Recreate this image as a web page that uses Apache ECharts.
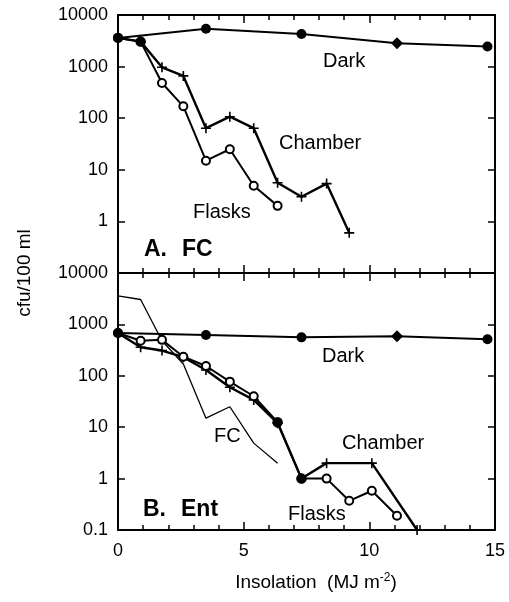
<!DOCTYPE html>
<html>
<head>
<meta charset="utf-8">
<script src="https://cdn.jsdelivr.net/npm/echarts@6.0.0/dist/echarts.min.js"></script>
<style>
html, body { margin: 0; padding: 0; background: #fff; }
#chart { width: 509px; height: 602px; }
</style>
</head>
<body>
<div id="chart"></div>
<script>
// A. FC panel
var fcDarkX = [0, 3.5, 7.3, 11.1, 14.7];
var fcDark = [3600, 5400, 4300, 2850, 2450];
var fcChamberX = [0, 0.9, 1.75, 2.6, 3.5, 4.45, 5.4, 6.35, 7.3, 8.3, 9.2];
var fcChamber = [3600, 3050, 970, 660, 64, 107, 64, 5.6, 3.0, 5.4, 0.6];
var fcFlasksX = [0, 0.9, 1.75, 2.6, 3.5, 4.45, 5.4, 6.35];
var fcFlasks = [3600, 3050, 480, 170, 15, 25, 4.9, 2.0];

// B. Ent panel
var entDarkX = [0, 3.5, 7.3, 11.1, 14.7];
var entDark = [680, 620, 560, 590, 515];
var entChamberX = [0, 0.9, 1.75, 2.6, 3.5, 4.45, 5.4, 6.35, 7.3, 8.3, 10.1, 11.9];
var entChamber = [680, 360, 310, 230, 130, 60, 34, 12, 1.0, 2.0, 2.0, 0.1];
var entFlasksX = [0, 0.9, 1.75, 2.6, 3.5, 4.45, 5.4, 6.35, 7.3, 8.3, 9.2, 10.1, 11.1];
var entFlasks = [680, 480, 500, 235, 155, 77, 40, 12.5, 1.0, 1.0, 0.37, 0.58, 0.19];

var xTicks = [0, 5, 10, 15];
var yTicks = [0.1, 1, 10, 100, 1000, 10000];

var F = '"Liberation Sans", Arial, sans-serif';
var chart = echarts.init(document.getElementById('chart'));

function pts(xs, ys) {
    return xs.map(function (x, i) { return [x, ys[i]]; });
}

function xAx(grid, pos, labels) {
    return {
        type: 'value', gridIndex: grid, position: pos,
        min: xTicks[0], max: xTicks[xTicks.length - 1], interval: 5,
        axisLine: { show: true, onZero: false, lineStyle: { color: '#000', width: 2 } },
        axisTick: { show: true, inside: true, length: 8, lineStyle: { color: '#000', width: 1.5 } },
        minorTick: { show: true, splitNumber: 5, length: 5, lineStyle: { color: '#000', width: 1.5 } },
        splitLine: { show: false },
        axisLabel: { show: labels, margin: 12, fontSize: 18, color: '#000', fontFamily: F }
    };
}

function yAx(grid, pos, labels, hideLow) {
    return {
        type: 'log', logBase: 10, gridIndex: grid, position: pos,
        min: yTicks[0], max: yTicks[yTicks.length - 1],
        axisLine: { show: true, onZero: false, lineStyle: { color: '#000', width: 2 } },
        axisTick: { show: true, inside: true, length: 7, lineStyle: { color: '#000', width: 1.5 } },
        splitLine: { show: false },
        axisLabel: {
            show: labels, margin: 10, fontSize: 18, color: '#000', fontFamily: F,
            formatter: function (v) {
                if (v < 1) return hideLow ? '' : '0.1';
                return String(Math.round(v));
            }
        }
    };
}

var cross = 'path://M4.2,0H5.8V4.2H10V5.8H5.8V10H4.2V5.8H0V4.2H4.2Z';

function darkSeries(xi, yi, xs, ys) {
    var d = pts(xs, ys).map(function (p, i) {
        return i === 3 ? { value: p, symbol: 'diamond', symbolSize: 12 } : p;
    });
    return {
        type: 'line', xAxisIndex: xi, yAxisIndex: yi, data: d, z: 4,
        symbol: 'circle', symbolSize: 10,
        lineStyle: { color: '#000', width: 2 }, itemStyle: { color: '#000' }
    };
}
function chamberSeries(xi, yi, xs, ys) {
    return {
        type: 'line', xAxisIndex: xi, yAxisIndex: yi, data: pts(xs, ys), z: 2,
        symbol: cross, symbolSize: 10,
        lineStyle: { color: '#000', width: 2.4 }, itemStyle: { color: '#000' }
    };
}
// points where chamber and flasks sit on top of each other print as solid dots
function flasksSeries(xi, yi, xs, ys, solid) {
    var d = pts(xs, ys).map(function (p, i) {
        return solid.indexOf(i) >= 0 ? { value: p, symbol: 'circle', symbolSize: 9 } : p;
    });
    return {
        type: 'line', xAxisIndex: xi, yAxisIndex: yi, data: d, z: 3,
        symbol: 'emptyCircle', symbolSize: 8,
        lineStyle: { color: '#000', width: 2 },
        itemStyle: { color: '#000', borderColor: '#000', borderWidth: 1.5 }
    };
}

function txt(x, y, s, size, bold) {
    return {
        type: 'text', x: x, y: y, z: 100,
        style: {
            text: s, fontSize: size, fontWeight: bold ? 'bold' : 'normal',
            fontFamily: F, fill: '#000', align: 'left', verticalAlign: 'middle'
        }
    };
}

var option = {
    animation: false,
    backgroundColor: '#fff',
    grid: [
        { left: 118, top: 15, width: 377, height: 258 },
        { left: 118, top: 273, width: 377, height: 257 }
    ],
    xAxis: [xAx(0, 'bottom', false), xAx(0, 'top', false), xAx(1, 'bottom', true), xAx(1, 'top', false)],
    yAxis: [yAx(0, 'left', true, true), yAx(0, 'right', false, true), yAx(1, 'left', true, false), yAx(1, 'right', false, false)],
    series: [
        chamberSeries(0, 0, fcChamberX, fcChamber),
        flasksSeries(0, 0, fcFlasksX, fcFlasks, [1]),
        darkSeries(0, 0, fcDarkX, fcDark),
        {
            type: 'line', xAxisIndex: 2, yAxisIndex: 2, data: pts(fcFlasksX, fcFlasks),
            symbol: 'none', lineStyle: { color: '#000', width: 1.3 }
        },
        chamberSeries(2, 2, entChamberX, entChamber),
        flasksSeries(2, 2, entFlasksX, entFlasks, [7, 8]),
        darkSeries(2, 2, entDarkX, entDark)
    ],
    graphic: [
        txt(323, 61, 'Dark', 20),
        txt(279, 143, 'Chamber', 20),
        txt(193, 212, 'Flasks', 20),
        txt(144, 250, 'A.', 23, true),
        txt(182, 250, 'FC', 23, true),
        txt(322, 356, 'Dark', 20),
        txt(214, 436, 'FC', 20),
        txt(342, 443, 'Chamber', 20),
        txt(288, 514, 'Flasks', 20),
        txt(143, 510, 'B.', 23, true),
        txt(181, 510, 'Ent', 23, true),
        {
            type: 'text', x: 25, y: 273, rotation: Math.PI / 2,
            style: { text: 'cfu/100 ml', fontSize: 19, fontFamily: F, fill: '#000', align: 'center', verticalAlign: 'middle' }
        },
        {
            type: 'text', x: 316, y: 583,
            style: {
                text: 'Insolation  (MJ m{sup|-2})', fontSize: 19, fontFamily: F, fill: '#000',
                align: 'center', verticalAlign: 'middle',
                rich: { sup: { fontSize: 12, fontFamily: F, fill: '#000', verticalAlign: 'top', lineHeight: 22 } }
            }
        }
    ]
};

chart.setOption(option);
</script>
</body>
</html>
